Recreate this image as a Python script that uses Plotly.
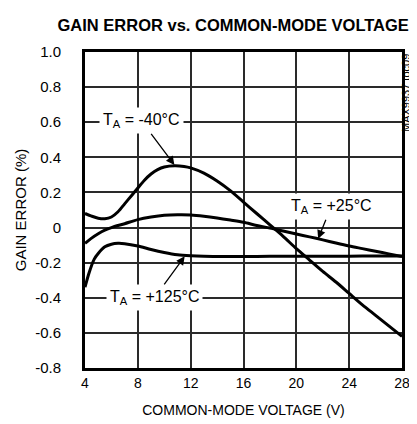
import plotly.graph_objects as go

# Data
v_m40 = [4, 4.5, 5, 5.5, 6, 6.5, 7, 7.5, 8, 8.5, 9, 9.5, 10, 10.8, 11.5, 12, 13, 14, 15, 16, 17, 18, 19, 20, 21, 22, 23, 24, 25, 26, 27, 28]
g_m40 = [0.08, 0.065, 0.053, 0.05, 0.06, 0.09, 0.135, 0.18, 0.225, 0.27, 0.305, 0.33, 0.345, 0.352, 0.348, 0.34, 0.31, 0.265, 0.21, 0.145, 0.08, 0.015, -0.05, -0.12, -0.185, -0.25, -0.31, -0.375, -0.44, -0.5, -0.56, -0.62]

v_p25 = [4, 4.5, 5, 5.5, 6, 7, 8, 9, 10, 11, 12, 13, 14, 15, 16, 17, 18, 19, 20, 21, 22, 23, 24, 25, 26, 27, 28]
g_p25 = [-0.09, -0.06, -0.035, -0.015, 0.0, 0.022, 0.045, 0.06, 0.07, 0.073, 0.072, 0.065, 0.055, 0.043, 0.03, 0.012, -0.003, -0.02, -0.037, -0.053, -0.07, -0.088, -0.105, -0.12, -0.135, -0.15, -0.165]

v_p125 = [4, 4.3, 4.7, 5, 5.5, 6, 6.5, 7, 8, 9, 10, 11, 12, 13, 14, 16, 18, 20, 22, 24, 26, 28]
g_p125 = [-0.34, -0.26, -0.18, -0.148, -0.11, -0.095, -0.09, -0.092, -0.105, -0.125, -0.142, -0.155, -0.161, -0.164, -0.165, -0.165, -0.164, -0.164, -0.163, -0.163, -0.162, -0.162]

x_ticks = [4, 8, 12, 16, 20, 24, 28]
y_ticks = [1.0, 0.8, 0.6, 0.4, 0.2, 0.0, -0.2, -0.4, -0.6, -0.8]
y_labels = ["1.0", "0.8", "0.6", "0.4", "0.2", "0", "-0.2", "-0.4", "-0.6", "-0.8"]
x_range = [4, 28]
y_range = [-0.8, 1.0]

# curve labels: text and the point on the curve the arrow points to
label_text = ["T<sub>A</sub> = -40°C", "T<sub>A</sub> = +25°C", "T<sub>A</sub> = +125°C"]
arrow_head = [(10.77, 0.357), (21.65, -0.064), (11.55, -0.164)]
label_offset_px = [(-33, -44), (13, -32), (-30, 41)]

FONT = "Liberation Sans, Arial, sans-serif"

fig = go.Figure()
for xs, ys in [(v_m40, g_m40), (v_p25, g_p25), (v_p125, g_p125)]:
    fig.add_trace(go.Scatter(x=xs, y=ys, mode="lines",
                             line=dict(color="black", width=3, shape="spline", smoothing=0.8),
                             showlegend=False))

for txt, (hx, hy), (ox, oy) in zip(label_text, arrow_head, label_offset_px):
    fig.add_annotation(x=hx, y=hy, ax=ox, ay=oy, text=txt,
                       showarrow=True, arrowhead=2, arrowsize=1.3, arrowwidth=1.3,
                       arrowcolor="black", bgcolor="white", borderpad=3,
                       font=dict(family=FONT, size=16, color="black"))

fig.add_annotation(x=1.0, y=1.0, xref="paper", yref="paper", text="MAX9937 toc09",
                   textangle=-90, showarrow=False, xanchor="center", yanchor="top", xshift=4,
                   font=dict(family=FONT, size=11, color="black"))

fig.update_layout(
    width=417, height=424,
    margin=dict(l=77, r=23, t=44, b=64),
    plot_bgcolor="white",
    title=dict(text="<b>GAIN ERROR vs. COMMON-MODE VOLTAGE</b>", x=0.54, xanchor="center",
               y=0.96, yanchor="middle", font=dict(family=FONT, size=16.5, color="black")),
    font=dict(family=FONT, size=14, color="black"),
)
fig.update_xaxes(range=x_range, tickvals=x_ticks, showgrid=True, gridcolor="#2a2a2a", gridwidth=1.5,
                 showline=True, linecolor="black", linewidth=3, mirror=True,
                 zeroline=False, tickfont=dict(size=14),
                 title=dict(text="COMMON-MODE VOLTAGE (V)", font=dict(size=14), standoff=16))
fig.update_yaxes(range=y_range, tickvals=y_ticks, ticktext=y_labels, showgrid=True,
                 gridcolor="#2a2a2a", gridwidth=1.5,
                 showline=True, linecolor="black", linewidth=3, mirror=True,
                 zeroline=False, ticks="outside", ticklen=18, tickcolor="white",
                 tickfont=dict(size=15),
                 title=dict(text="GAIN ERROR (%)", font=dict(size=15), standoff=5))

fig.write_html("out.html")
